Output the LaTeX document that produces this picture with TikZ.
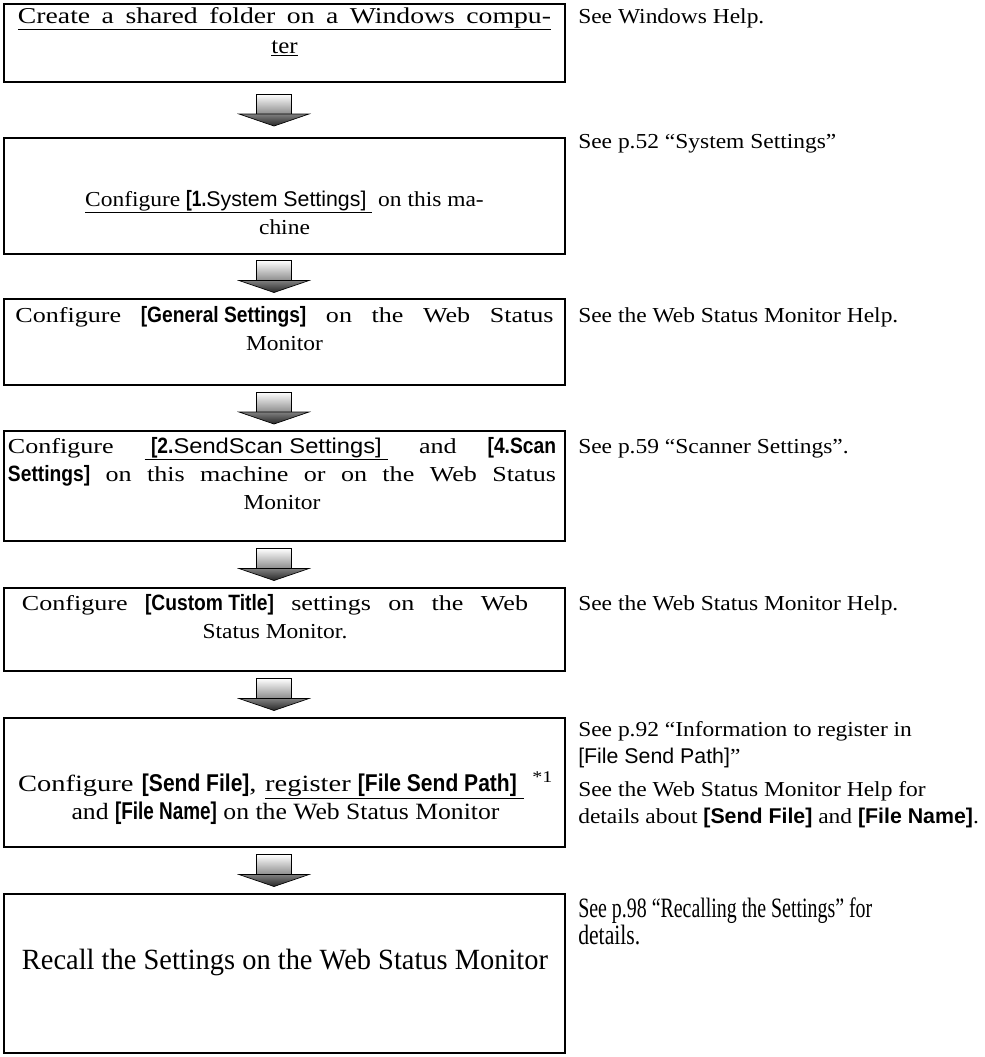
\documentclass[tikz,border=0pt]{standalone}
\usepackage{fontspec}
\setmainfont{Liberation Serif}[FakeStretch=1.1]
\setsansfont{Liberation Sans}
\newfontfamily\btnfont{Liberation Sans}[FakeStretch=0.78,Scale=1.04]
\usepackage{graphicx}
\usetikzlibrary{calc,positioning}
\newlength\pxu \setlength\pxu{0.75pt}
\newcommand\btn[1]{\mbox{\btnfont\bfseries #1}}
\newcommand\bsf[1]{\mbox{\sffamily\bfseries #1}}
\newcommand\sfr[1]{\mbox{\sffamily #1}}
\newcommand\ulbox[1]{\underline{#1}}
% full-width line: a little wider glyphs, a little wider spaces
\newcommand\jline[2]{\resizebox{#1}{\height}{\makebox[\dimexpr #1*90/100\relax][s]{#2}}}
\tikzset{
  stepbox/.style={draw,line width=1.6pt,minimum width=561\pxu,inner sep=0pt,outer sep=0pt},
  steptxt/.style={align=center,font=\fontsize{16}{21}\selectfont,inner sep=0pt,anchor=base},
  seetxt/.style={align=left,font=\fontsize{16}{21}\selectfont,inner sep=0pt,anchor=base west}
}

\begin{document}
\begin{tikzpicture}[x=1\pxu,y=-1\pxu]
\useasboundingbox (0,0) rectangle (985,1057);
% step boxes
\foreach \i/\yc/\h in {1/43/78,2/196/116,3/342/86,4/486/110,5/629.5/83,6/782.5/129,7/973.5/159}{
  \node[stepbox,minimum height=\h\pxu] (b\i) at (284.5,\yc) {};
}
% block arrows between the steps
\foreach \a/\b in {1/2,2/3,3/4,4/5,5/6,6/7}{
  \coordinate (m\a) at ($(b\a.south)!0.5!(b\b.north)+(-10.5,-16)$);
  \shade[top color=white,bottom color=black!45,draw=black,line width=.5pt] ($(m\a)+(-17.5,0)$) rectangle ++(35,20);
  \shade[top color=black!50,bottom color=black!85,draw=black,line width=.5pt] ($(m\a)+(-35,20)$) -- ++(70,0) -- ++(-35,12) -- cycle;
}
% texts in the steps (placed at the baseline of their last line)
\node[steptxt,font=\fontsize{17}{22.5}\selectfont] (s1) at (284.5,53) {\ulbox{\jline{399.75pt}{Create a shared folder on a Windows compu-}}\\\ulbox{ter}};
\node[steptxt] (s2) at (284.5,234) {\ulbox{Configure \btn{[1.}\sfr{System Settings]}\ } on this ma-\\chine};
\node[steptxt] (s3) at (284.5,350) {\jline{403.5pt}{Configure \btn{[General Settings]} on the Web Status}\\Monitor};
\node[steptxt] (s4) at (282,509) {\jline{411pt}{Configure \ulbox{\ \btn{[2.}\sfr{SendScan Settings]}\ } and \btn{[4.Scan}}\\\jline{411pt}{\btn{Settings]} on this machine or on the Web Status}\\Monitor};
\node[steptxt] (s5) at (275,638) {\jline{379.5pt}{Configure \btn{[Custom Title]} settings on the Web}\\Status Monitor.};
\node[steptxt,font=\fontsize{17.5}{21}\selectfont] (s6) at (285.5,819) {\jline{401.25pt}{Configure \btn{[Send File]}, \ulbox{register \btn{[File Send Path]}\ } \textsuperscript{*1}}\\and \btn{[File Name]} on the Web Status Monitor};
\node[steptxt] (s7) at (285,969) {\resizebox{394.5pt}{\height}{\fontsize{22}{24}\selectfont Recall the Settings on the Web Status Monitor}};
% references on the right
\node[seetxt] (r1) at (578,23) {See Windows Help.};
\node[seetxt] (r2) at (578,148) {See p.52 ``System Settings''};
\node[seetxt] (r3) at (578,322) {See the Web Status Monitor Help.};
\node[seetxt] (r4) at (578,453) {See p.59 ``Scanner Settings''.};
\node[seetxt] (r5) at (578,610) {See the Web Status Monitor Help.};
\node[seetxt,font=\fontsize{16}{20.25}\selectfont] (r6) at (578,823) {See p.92 ``Information to register in\\\sfr{[File Send Path]}''\\[4pt]See the Web Status Monitor Help for\\details about \bsf{[Send File]} and \bsf{[File Name]}.};
\node[seetxt,font=\fontsize{16}{20.25}\selectfont] (r7) at (578,944) {\resizebox{220.5pt}{\height}{\fontsize{21}{24}\selectfont See p.98 ``Recalling the Settings'' for}\\\resizebox{46.5pt}{\height}{\fontsize{21}{24}\selectfont details.}};
\end{tikzpicture}
\end{document}
